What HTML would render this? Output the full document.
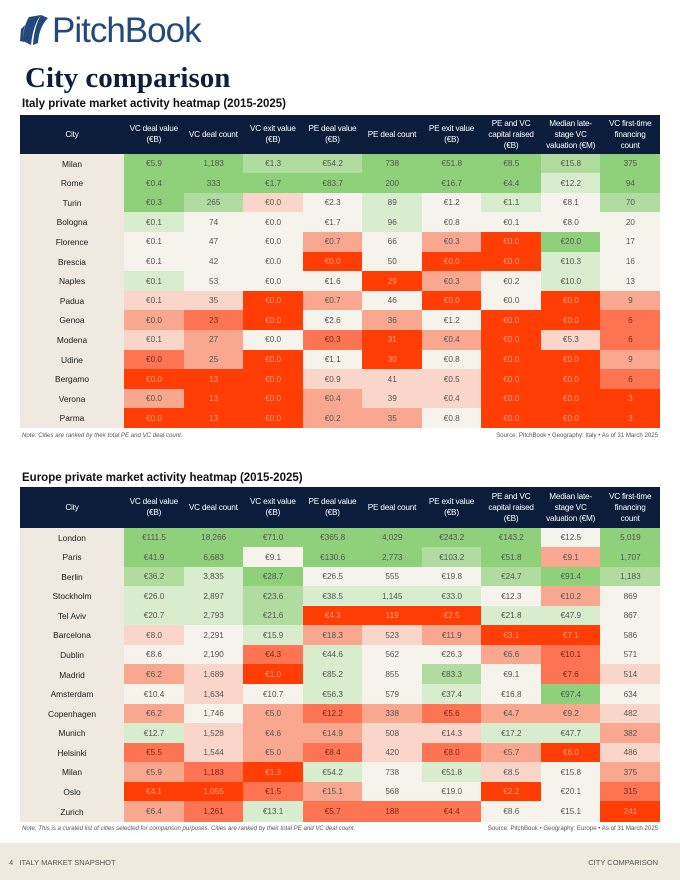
<!DOCTYPE html>
<html><head><meta charset="utf-8">
<style>
*{margin:0;padding:0;box-sizing:border-box}
body{width:680px;height:880px;background:#fff;position:relative;overflow:hidden;font-family:"Liberation Sans Narrow","Liberation Sans",sans-serif;color:#222}
.abs{position:absolute}
.logo{left:52px;top:11px;font-size:35px;font-family:"Liberation Sans",sans-serif;color:#22497a;letter-spacing:-1px}
.title{left:25px;top:62px;font-family:"Liberation Serif",serif;font-weight:bold;font-size:29px;color:#0d1f3c}
.sub{left:22px;font-weight:bold;font-size:11.5px;color:#111}
.tbl{left:20px;width:640px}
.hdr{position:absolute;left:0;top:0;width:640px;background:#0b1d3a}
.hc{position:absolute;top:0;height:100%;display:flex;align-items:center;justify-content:center;text-align:center;color:#fff;font-size:8.2px;line-height:11px;letter-spacing:-0.2px}
.cell{position:absolute;display:flex;align-items:center;justify-content:center;font-size:8.2px;color:#555}
.city{background:#efe9df;color:#1a1a1a;font-size:8.4px}
.note{font-size:6.1px;color:#555}
.footer{left:0;top:843px;width:680px;height:37px;background:#eeeade}
</style></head>
<body>
<svg class="abs" style="left:19px;top:15px" width="30" height="32" viewBox="0 0 30 32">
<path d="M10 2 L22 0 Q14 10 12 30 L4 26 Q4 12 10 2Z" fill="#22497a"/>
<path d="M22 0 L29 3 Q20 12 19 28 L14 30 Q15 12 22 0Z" fill="#22497a"/>
<path d="M2 14 L6 10 Q3 20 5 27 L1 26Z" fill="#22497a"/>
</svg>
<div class="abs logo">PitchBook</div>
<div class="abs title">City comparison</div>
<div class="abs sub" style="top:98px">Italy private market activity heatmap (2015-2025)</div>
<div class="abs tbl" id="t1" style="top:115px;height:314px"></div>
<div class="abs note" style="left:22px;top:432px;font-style:italic">Note: Cities are ranked by their total PE and VC deal count.</div>
<div class="abs note" style="right:22px;top:432px">Source: PitchBook • Geography: Italy • As of 31 March 2025</div>
<div class="abs sub" style="top:472px">Europe private market activity heatmap (2015-2025)</div>
<div class="abs tbl" id="t2" style="top:487px;height:334px"></div>
<div class="abs note" style="left:22px;top:825px;font-style:italic">Note: This is a curated list of cities selected for comparison purposes. Cities are ranked by their total PE and VC deal count.</div>
<div class="abs note" style="right:22px;top:825px">Source: PitchBook • Geography: Europe • As of 31 March 2025</div>
<div class="abs footer">
<div class="abs" style="left:9px;top:15px;font-size:7.5px;color:#555">4&nbsp;&nbsp;&nbsp;ITALY MARKET SNAPSHOT</div>
<div class="abs" style="right:22px;top:15px;font-size:7.5px;color:#555">CITY COMPARISON</div>
</div>
<script>
const headers=["City","VC deal value<br>(€B)","VC deal count","VC exit value<br>(€B)","PE deal value<br>(€B)","PE deal count","PE exit value<br>(€B)","PE and VC<br>capital raised<br>(€B)","Median late-<br>stage VC<br>valuation (€M)","VC first-time<br>financing<br>count"];
const italyCities=["Milan","Rome","Turin","Bologna","Florence","Brescia","Naples","Padua","Genoa","Modena","Udine","Bergamo","Verona","Parma"];
const italyValues=[
["€5.9","1,183","€1.3","€54.2","738","€51.8","€8.5","€15.8","375"],
["€0.4","333","€1.7","€83.7","200","€16.7","€4.4","€12.2","94"],
["€0.3","265","€0.0","€2.3","89","€1.2","€1.1","€8.1","70"],
["€0.1","74","€0.0","€1.7","96","€0.8","€0.1","€8.0","20"],
["€0.1","47","€0.0","€0.7","66","€0.3","€0.0","€20.0","17"],
["€0.1","42","€0.0","€0.0","50","€0.0","€0.0","€10.3","16"],
["€0.1","53","€0.0","€1.6","29","€0.3","€0.2","€10.0","13"],
["€0.1","35","€0.0","€0.7","46","€0.0","€0.0","€0.0","9"],
["€0.0","23","€0.0","€2.6","36","€1.2","€0.0","€0.0","6"],
["€0.1","27","€0.0","€0.3","31","€0.4","€0.0","€5.3","6"],
["€0.0","25","€0.0","€1.1","30","€0.8","€0.0","€0.0","9"],
["€0.0","13","€0.0","€0.9","41","€0.5","€0.0","€0.0","6"],
["€0.0","13","€0.0","€0.4","39","€0.4","€0.0","€0.0","3"],
["€0.0","13","€0.0","€0.2","35","€0.8","€0.0","€0.0","3"]];
const italyShade=[
[3,3,2,2,3,3,3,2,3],[3,3,3,3,3,3,3,1,3],[3,2,-1,0,1,0,1,0,2],[1,0,0,0,1,0,0,0,0],
[0,0,0,-2,0,-2,-4,3,0],[0,0,0,-4,0,-4,-4,1,0],[1,0,0,0,-4,-2,0,1,0],[-1,-1,-4,-2,0,-4,0,-4,-2],
[-2,-3,-4,0,-2,0,-4,-4,-3],[-1,-2,0,-3,-4,-2,-4,-1,-3],[-3,-2,-4,0,-4,0,-4,-4,-2],
[-4,-4,-4,-1,-1,-1,-4,-4,-3],[-2,-4,-4,-2,-1,-1,-4,-4,-4],[-4,-4,-4,-2,-2,0,-4,-4,-4]];
const europeCities=["London","Paris","Berlin","Stockholm","Tel Aviv","Barcelona","Dublin","Madrid","Amsterdam","Copenhagen","Munich","Helsinki","Milan","Oslo","Zurich"];
const europeValues=[
["€111.5","18,266","€71.0","€365.8","4,029","€243.2","€143.2","€12.5","5,019"],
["€41.9","6,683","€9.1","€130.6","2,773","€103.2","€51.8","€9.1","1,707"],
["€36.2","3,835","€28.7","€26.5","555","€19.8","€24.7","€91.4","1,183"],
["€26.0","2,897","€23.6","€38.5","1,145","€33.0","€12.3","€10.2","869"],
["€20.7","2,793","€21.6","€4.3","119","€2.5","€21.8","€47.9","867"],
["€8.0","2,291","€15.9","€18.3","523","€11.9","€3.1","€7.1","586"],
["€8.6","2,190","€4.3","€44.6","562","€26.3","€6.6","€10.1","571"],
["€6.2","1,689","€1.0","€85.2","855","€83.3","€9.1","€7.6","514"],
["€10.4","1,634","€10.7","€56.3","579","€37.4","€16.8","€97.4","634"],
["€6.2","1,746","€5.0","€12.2","338","€5.6","€4.7","€9.2","482"],
["€12.7","1,528","€4.6","€14.9","508","€14.3","€17.2","€47.7","382"],
["€5.5","1,544","€5.0","€8.4","420","€8.0","€5.7","€6.0","486"],
["€5.9","1,183","€1.3","€54.2","738","€51.8","€8.5","€15.8","375"],
["€4.1","1,055","€1.5","€15.1","568","€19.0","€2.2","€20.1","315"],
["€6.4","1,261","€13.1","€5.7","188","€4.4","€8.6","€15.1","241"]];
const europeShade=[
[3,3,3,3,3,3,3,0,3],[3,3,0,3,3,2,3,-2,3],[2,1,3,0,0,0,2,3,2],[1,1,2,1,1,1,0,-2,0],
[1,1,2,-4,-4,-4,1,1,0],[-1,0,1,-2,-1,-2,-4,-4,0],[0,0,-3,1,0,0,-2,-3,0],[-2,-1,-4,1,0,2,0,-3,-1],
[0,-1,0,1,0,1,0,3,0],[-2,0,-2,-3,-2,-3,-2,-2,-1],[1,-1,-2,-2,-1,-1,1,1,-2],[-3,-1,-2,-3,-1,-3,-2,-4,-1],
[-2,-3,-4,1,0,1,-1,0,-2],[-4,-4,-3,-2,0,0,-4,0,-3],[-2,-3,1,-3,-3,-3,0,0,-4]];
const palette={"3":"#8fd07b","2":"#b0dc9f","1":"#d8ecce","0":"#f6f3ec","-1":"#fad6ca","-2":"#f9a78e","-3":"#fc7452","-4":"#ff3d05"};
const cityW=104, colW=59.55;
function colX(i){return i<0?0:cityW+i*colW;}
function build(id,cities,vals,shade,hdrH,rowH){
  const t=document.getElementById(id);
  const h=document.createElement('div');h.className='hdr';h.style.height=hdrH+'px';
  
  
  headers.forEach((tx,i)=>{const c=document.createElement('div');c.className='hc';
    c.style.left=colX(i-1)+'px';c.style.width=(i?colW:cityW)+'px';c.innerHTML=tx;
    
    
    h.appendChild(c);});
  t.appendChild(h);
  cities.forEach((city,r)=>{
    const y=hdrH+r*rowH;
    const c=document.createElement('div');c.className='cell city';
    c.style.cssText+=`left:0;top:${y}px;width:${cityW}px;height:${rowH+0.5}px`;c.textContent=city;
    
    
    t.appendChild(c);
    vals[r].forEach((v,j)=>{const d=document.createElement('div');d.className='cell';
      const s=shade[r][j];
      d.style.cssText+=`left:${colX(j)}px;top:${y}px;width:${colW+0.5}px;height:${rowH+0.5}px;background:${palette[s]};`+(s==-4?'color:#f7a07c;':s==-3?'color:#7a2a18;':'');
      d.textContent=v;
      
      
      t.appendChild(d);});
  });
}
build('t1',italyCities,italyValues,italyShade,38.5,19.6);
build('t2',europeCities,europeValues,europeShade,40.5,19.57);
</script>
</body></html>
